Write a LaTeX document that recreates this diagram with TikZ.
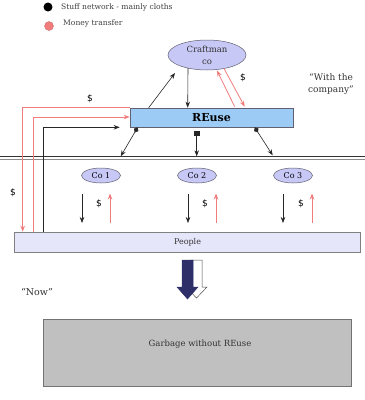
\documentclass[tikz,border=0pt]{standalone}
\usepackage{fontspec}
\setmainfont{DejaVu Serif}
\newfontfamily\dollarfont{DejaVu Sans}
\usetikzlibrary{arrows.meta,shapes.geometric,calc}
\definecolor{pinkc}{HTML}{F07C7C}
\definecolor{lav}{HTML}{C8C8F6}
\definecolor{reuseblue}{HTML}{9CCBF6}
\definecolor{peoplec}{HTML}{E6E6FA}
\definecolor{garbc}{HTML}{C0C0C0}
\definecolor{navyc}{HTML}{2E2F68}
\definecolor{edgec}{HTML}{606070}
\tikzset{
  tip/.style={-{Stealth[length=6pt,width=4.5pt]}},
  blk/.style={draw=black!85, line width=0.6pt, tip},
  pnk/.style={draw=pinkc, line width=0.8pt},
  ell/.style={ellipse, draw=edgec, fill=lav, line width=0.5pt, inner sep=0pt, align=center},
  boxc/.style={rectangle, draw=edgec, line width=0.6pt, inner sep=0pt},
  dollar/.style={font=\dollarfont\fontsize{9}{10}\selectfont, inner sep=0pt},
  txt/.style={inner sep=0pt, align=center},
}
\begin{document}
\begin{tikzpicture}[x=1pt,y=-1pt]
\useasboundingbox (0,0) rectangle (365,400);
% legend
\node[circle, fill=black, minimum size=9pt, inner sep=0pt] (lg1) at (48,7) {};
\node[txt, anchor=west, text=black!75, font=\fontsize{7.6}{9}\selectfont] (lt1) at (61,7) {Stuff network - mainly cloths};
\node[circle, fill=pinkc, draw=pinkc!80!black, line width=0.3pt, minimum size=9pt, inner sep=0pt] (lg2) at (49,26) {};
\node[txt, anchor=west, text=black!75, font=\fontsize{7.6}{9}\selectfont] (lt2) at (63,23) {Money transfer};
% main nodes
\node[ell, minimum width=78pt, minimum height=30pt, font=\fontsize{8.5}{12}\selectfont, text=black!80] (craft) at (207,55) {Craftman\\co};
\node[boxc, fill=reuseblue, minimum width=163pt, minimum height=19pt, font=\bfseries\fontsize{11}{12}\selectfont] (reuse) at (211.5,117.5) {REuse};
\node[txt, font=\fontsize{9}{12}\selectfont, text=black!80] (with) at (331,84) {``With the\\company''};
% double line
\draw[black!80, line width=0.7pt] (0,156) -- (365,156);
\draw[black!45, line width=0.7pt] (0,159) -- (365,159);
% companies
\node[ell, minimum width=39pt, minimum height=15pt, font=\fontsize{8}{9}\selectfont] (co1) at (101,175.5) {Co 1};
\node[ell, minimum width=39pt, minimum height=15pt, font=\fontsize{8}{9}\selectfont] (co2) at (197,175.5) {Co 2};
\node[ell, minimum width=39pt, minimum height=15pt, font=\fontsize{8}{9}\selectfont] (co3) at (293,175.5) {Co 3};
\node[boxc, fill=peoplec, draw=black!50, minimum width=346pt, minimum height=20pt, font=\fontsize{8}{9}\selectfont, text=black!80] (people) at (187.5,242) {People};
\node[boxc, fill=garbc, draw=black!55, minimum width=308pt, minimum height=67pt] (garbage) at (197,352.5) {};
\node[txt, font=\fontsize{8.5}{9}\selectfont, text=black!80] (garbtxt) at (200,344) {Garbage without REuse};
\node[txt, font=\fontsize{9.5}{10}\selectfont, text=black!80] (now) at (37,292) {``Now''};
% dollar labels
\node[dollar] (d1) at (90,99) {\$};
\node[dollar] (d2) at (243,78) {\$};
\node[dollar] (d3) at (13,193) {\$};
\node[dollar] (d4) at (99,204) {\$};
\node[dollar] (d5) at (205,204) {\$};
\node[dollar] (d6) at (301,204) {\$};
% craftman <-> reuse
\draw[blk] ($(reuse.north west)+(19,0)$) -- ($(craft.center)+(-32,18)$);
\draw[blk] ($(craft.center)+(-19,13)$) -- ($(reuse.north west)+(58,0)$);
\draw[pnk, tip] ($(reuse.north west)+(105,-1)$) -- ($(craft.center)+(10,15.5)$);
\draw[pnk, tip] ($(craft.center)+(17,13.5)$) -- ($(reuse.north west)+(115,-1)$);
% left feedback lines
\draw[pnk, tip] (reuse.north west) -| ([xshift=8.5pt]people.north west);
\draw[pnk, tip] ([xshift=19.5pt]people.north west) |- ([yshift=0.5pt]reuse.west);
\draw[blk] ([xshift=29.5pt]people.north west) |- ($(reuse.south west)+(-10,0)$);
% reuse to companies
\draw[black!85, line width=0.6pt, {Diamond[length=6pt,width=5pt]}-{Stealth[length=6pt,width=4.5pt]}] ($(reuse.south west)+(8,0)$) -- ($(reuse.south west)+(-9,29)$);
\draw[black!85, line width=0.6pt, {Square[length=4.5pt,width=5pt]}-{Stealth[length=6pt,width=4.5pt]}] ($(reuse.south west)+(67,4)$) -- ($(reuse.south west)+(67,29)$);
\draw[black!85, line width=0.6pt, {Diamond[length=6pt,width=5pt]}-{Stealth[length=6pt,width=4.5pt]}] ($(reuse.south west)+(125,0)$) -- ($(reuse.south west)+(143,28)$);
% companies <-> people
\draw[blk] ($(co1.center)+(-19,18)$) -- ($(co1.center)+(-19,47.5)$);
\draw[pnk, tip] ($(co1.center)+(9,47.5)$) -- ($(co1.center)+(9,18)$);
\draw[blk] ($(co2.center)+(-9,18)$) -- ($(co2.center)+(-9,47.5)$);
\draw[pnk, tip] ($(co2.center)+(19,47.5)$) -- ($(co2.center)+(19,18)$);
\draw[blk] ($(co3.center)+(-10,18)$) -- ($(co3.center)+(-10,47.5)$);
\draw[pnk, tip] ($(co3.center)+(19,47.5)$) -- ($(co3.center)+(19,18)$);
% thick arrows
\draw[fill=white, draw=black!70, line width=0.5pt] (191,260) -- (202,260) -- (202,287) -- (207,287) -- (196.5,298) -- (186,287) -- (191,287) -- cycle;
\draw[fill=navyc, draw=navyc, line width=0.5pt] (182,260) -- (193,260) -- (193,287) -- (198,287) -- (187.5,299) -- (177,287) -- (182,287) -- cycle;
\end{tikzpicture}
\end{document}
